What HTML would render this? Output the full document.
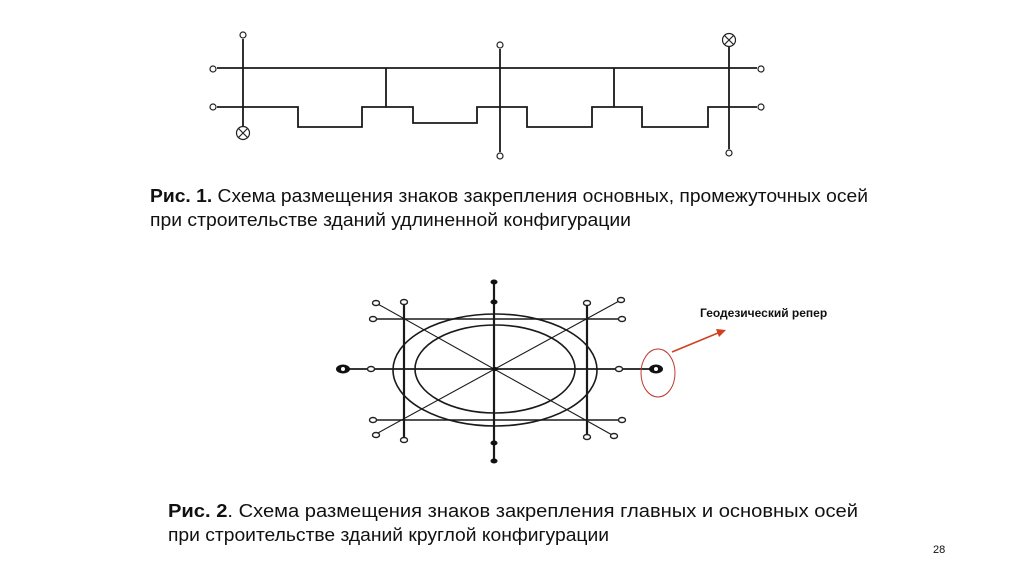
<!DOCTYPE html>
<html><head><meta charset="utf-8"><style>
html,body{margin:0;padding:0;background:#fff;}
svg{display:block;}
text{font-family:"Liberation Sans",sans-serif;fill:#111;}
</style></head><body>
<svg width="1024" height="574" viewBox="0 0 1024 574" xmlns="http://www.w3.org/2000/svg">
<g stroke="#1a1a1a" stroke-width="1.8" fill="none">
<line x1="217" y1="68" x2="757" y2="68"/>
<polyline points="217,107 298,107 298,127 362,127 362,107 413,107 413,123 477,123 477,107 527,107 527,127 592,127 592,107 642,107 642,127 708,127 708,107 757,107"/>
<line x1="386" y1="68" x2="386" y2="107"/>
<line x1="614" y1="68" x2="614" y2="107"/>
<line x1="243" y1="39" x2="243" y2="127"/>
<line x1="500" y1="49" x2="500" y2="152"/>
<line x1="729" y1="46" x2="729" y2="149"/>
</g>
<g stroke="#222" stroke-width="1.2" fill="#fff">
<circle cx="213" cy="69" r="3"/><circle cx="213" cy="107" r="3"/>
<circle cx="761" cy="69" r="3"/><circle cx="761" cy="107" r="3"/>
<circle cx="243" cy="35" r="3"/><circle cx="500" cy="45" r="3"/>
<circle cx="500" cy="156" r="3"/><circle cx="729" cy="153" r="3"/>
<circle cx="243" cy="133" r="6.5"/><circle cx="729" cy="40" r="6.5"/>
<path d="M238.5,128.5 l9,9 M247.5,128.5 l-9,9 M724.5,35.5 l9,9 M733.5,35.5 l-9,9" fill="none"/>
</g>
<g stroke="#1a1a1a" fill="none">
<ellipse cx="495" cy="370" rx="102" ry="56" stroke-width="1.6"/>
<ellipse cx="495" cy="369" rx="80" ry="44" stroke-width="1.6"/>
<line x1="494" y1="282" x2="494" y2="461" stroke-width="2.2"/>
<line x1="404" y1="300" x2="404" y2="440" stroke-width="2.2"/>
<line x1="587" y1="303" x2="587" y2="437" stroke-width="2.2"/>
<line x1="373" y1="319" x2="622" y2="319" stroke-width="1.4"/>
<line x1="373" y1="420" x2="622" y2="420" stroke-width="1.4"/>
<line x1="343" y1="369" x2="655" y2="369" stroke-width="1.7"/>
<line x1="376" y1="303" x2="614" y2="436" stroke-width="1.1"/>
<line x1="376" y1="434" x2="621" y2="300" stroke-width="1.1"/>
</g>
<g stroke="#222" stroke-width="1.4" fill="#fff">
<ellipse cx="376" cy="303" rx="3.5" ry="2.5"/><ellipse cx="404" cy="302" rx="3.5" ry="2.5"/>
<ellipse cx="587" cy="303" rx="3.5" ry="2.5"/><ellipse cx="621" cy="300" rx="3.5" ry="2.5"/>
<ellipse cx="373" cy="319" rx="3.5" ry="2.5"/><ellipse cx="622" cy="319" rx="3.5" ry="2.5"/>
<ellipse cx="371" cy="369" rx="3.5" ry="2.5"/><ellipse cx="619" cy="369" rx="3.5" ry="2.5"/>
<ellipse cx="373" cy="420" rx="3.5" ry="2.5"/><ellipse cx="622" cy="420" rx="3.5" ry="2.5"/>
<ellipse cx="376" cy="435" rx="3.5" ry="2.5"/><ellipse cx="404" cy="440" rx="3.5" ry="2.5"/>
<ellipse cx="587" cy="437" rx="3.5" ry="2.5"/><ellipse cx="614" cy="436" rx="3.5" ry="2.5"/>
</g>
<g fill="#111">
<ellipse cx="494" cy="282" rx="3.5" ry="2.5"/><ellipse cx="494" cy="302" rx="3.5" ry="2.5"/>
<ellipse cx="494" cy="443" rx="3.5" ry="2.5"/><ellipse cx="494" cy="461" rx="3.5" ry="2.5"/>
<ellipse cx="495" cy="369" rx="3" ry="2"/>
<ellipse cx="343" cy="369" rx="7" ry="4.5"/><ellipse cx="656" cy="369" rx="7" ry="4.5"/>
</g>
<g fill="#fff"><circle cx="343" cy="369" r="2"/><circle cx="656" cy="369" r="2"/></g>
<ellipse cx="658" cy="373" rx="17" ry="24" fill="none" stroke="#c0392b" stroke-width="1"/>
<line x1="672" y1="352" x2="718" y2="333" stroke="#d04020" stroke-width="1.5"/>
<polygon points="726,330 716,329 719,337" fill="#d04020"/>
<text x="700" y="317" font-size="12" font-weight="bold">Геодезический репер</text>
<text x="150" y="202" font-size="18" textLength="718" lengthAdjust="spacingAndGlyphs"><tspan font-weight="bold">Рис. 1.</tspan> Схема размещения знаков закрепления основных, промежуточных осей</text>
<text x="150" y="226" font-size="18" textLength="481" lengthAdjust="spacingAndGlyphs">при строительстве зданий удлиненной конфигурации</text>
<text x="168" y="517" font-size="18" textLength="690" lengthAdjust="spacingAndGlyphs"><tspan font-weight="bold">Рис. 2</tspan>. Схема размещения знаков закрепления главных и основных осей</text>
<text x="168" y="541" font-size="18" textLength="441" lengthAdjust="spacingAndGlyphs">при строительстве зданий круглой конфигурации</text>
<text x="933" y="553" font-size="11">28</text>
</svg>
</body></html>
